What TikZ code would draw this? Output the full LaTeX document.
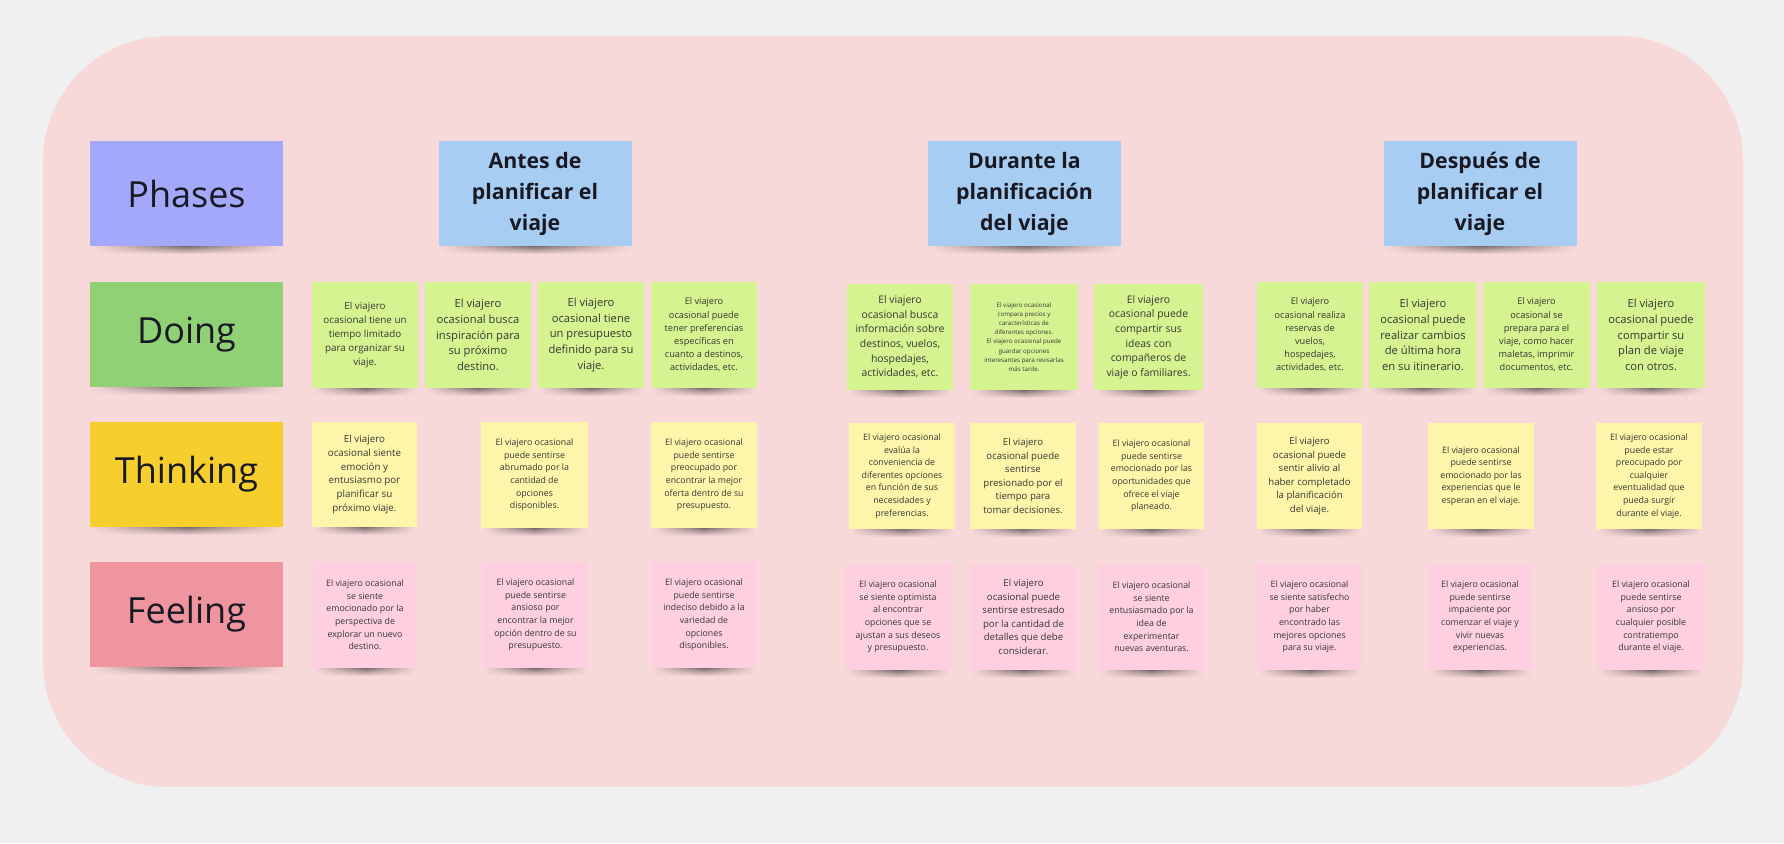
\documentclass[tikz,border=0pt]{standalone}
\usepackage{fontspec}
\setmainfont{Open Sans}
\usetikzlibrary{fadings}
\definecolor{outerbg}{RGB}{240,240,240}
\definecolor{panel}{RGB}{248,217,218}
\definecolor{phasecol}{RGB}{163,168,251}
\definecolor{headcol}{RGB}{167,205,243}
\definecolor{doingcol}{RGB}{145,209,118}
\definecolor{thinkcol}{RGB}{246,207,46}
\definecolor{feelcol}{RGB}{238,149,159}
\definecolor{greennote}{RGB}{213,244,145}
\definecolor{yellownote}{RGB}{253,246,170}
\definecolor{pinknote}{RGB}{254,207,224}
\definecolor{notetext}{RGB}{55,55,50}
\definecolor{labeltext}{RGB}{25,25,35}
\newcommand\nfs[2]{\fontsize{#1pt}{#2pt}\selectfont}
\tikzfading[name=endfade, left color=transparent!100, right color=transparent!100, middle color=transparent!0]
\tikzset{
  shadowband/.style={top color=black!70!panel, bottom color=panel, path fading=endfade, fit fading=true},
  basebox/.style={minimum width=106pt, minimum height=106pt, inner sep=0pt, align=center, text=notetext},
  gnote/.style={basebox, fill=greennote},
  ynote/.style={basebox, fill=yellownote},
  pnote/.style={basebox, fill=pinknote},
  rowlabel/.style={minimum width=193pt, minimum height=105pt, inner sep=0pt, align=center, text=labeltext, font=\nfs{36}{43}},
  phasehead/.style={minimum width=193pt, minimum height=105pt, inner sep=0pt, align=center, text=labeltext, fill=headcol, font=\bfseries\nfs{21.3}{31}},
}
% shadow under a box: center x, bottom y, half width
\newcommand\shad[3]{\shade[shadowband] ({#1-#3+2},{#2-3}) rectangle ({#1+#3-2},{#2+8});}
\begin{document}
\begin{tikzpicture}[x=1pt,y=-1pt]
\useasboundingbox (0,0) rectangle (1784,843);
\fill[outerbg] (0,0) rectangle (1784,843);
\fill[panel, rounded corners=125pt] (43,36) rectangle (1743,787);

% ---- row labels ----
\shad{186.5}{246}{96.5}
\node[rowlabel, fill=phasecol] (phases) at (186.5,193.5) {Phases};
\shad{186.5}{387}{96.5}
\node[rowlabel, fill=doingcol] (doing) at (186.5,334.5) {Doing};
\shad{186.5}{527}{96.5}
\node[rowlabel, fill=thinkcol] (thinking) at (186.5,474.5) {Thinking};
\shad{186.5}{667}{96.5}
\node[rowlabel, fill=feelcol] (feeling) at (186.5,614.5) {Feeling};

% ---- phase headers ----
\shad{535}{246}{96.5}
\node[phasehead] (antes) at (535,193.5) {Antes de\\planificar el\\viaje};
\shad{1024.5}{246}{96.5}
\node[phasehead] (durante) at (1024.5,193.5) {Durante la\\planificación\\del viaje};
\shad{1480}{246}{96.5}
\node[phasehead] (despues) at (1480,193.5) {Después de\\planificar el\\viaje};

% ---- Doing row ----
\shad{365}{388}{53}
\node[gnote, font=\nfs{9.8}{13.8}] (d1) at (365,335) {El viajero\\ocasional tiene un\\tiempo limitado\\para organizar su\\viaje.};
\shad{478}{388}{53}
\node[gnote, font=\nfs{11.2}{15.6}] (d2) at (478,335) {El viajero\\ocasional busca\\inspiración para\\su próximo\\destino.};
\shad{591}{388}{53}
\node[gnote, font=\nfs{11.2}{15.6}] (d3) at (591,335) {El viajero\\ocasional tiene\\un presupuesto\\definido para su\\viaje.};
\shad{704}{388}{53}
\node[gnote, font=\nfs{9.2}{13.2}] (d4) at (704,335) {El viajero\\ocasional puede\\tener preferencias\\específicas en\\cuanto a destinos,\\actividades, etc.};
\shad{900}{390}{53}
\node[gnote, font=\nfs{10.4}{14.6}] (d5) at (900,337) {El viajero\\ocasional busca\\información sobre\\destinos, vuelos,\\hospedajes,\\actividades, etc.};
\shad{1024}{390}{54}
\node[gnote, minimum width=108pt, font=\nfs{6.2}{9.2}] (d6) at (1024,337) {El viajero ocasional\\compara precios y\\características de\\diferentes opciones.\\El viajero ocasional puede\\guardar opciones\\interesantes para revisarlas\\más tarde.};
\shad{1148.5}{390}{54.5}
\node[gnote, minimum width=109pt, font=\nfs{10.4}{14.6}] (d7) at (1148.5,337) {El viajero\\ocasional puede\\compartir sus\\ideas con\\compañeros de\\viaje o familiares.};
\shad{1310}{388}{53}
\node[gnote, font=\nfs{9.2}{13.2}] (d8) at (1310,335) {El viajero\\ocasional realiza\\reservas de\\vuelos,\\hospedajes,\\actividades, etc.};
\shad{1423}{388}{54}
\node[gnote, minimum width=108pt, font=\nfs{11.2}{15.6}] (d9) at (1423,335) {El viajero\\ocasional puede\\realizar cambios\\de última hora\\en su itinerario.};
\shad{1536.5}{388}{53.5}
\node[gnote, minimum width=107pt, font=\nfs{9.2}{13.2}] (d10) at (1536.5,335) {El viajero\\ocasional se\\prepara para el\\viaje, como hacer\\maletas, imprimir\\documentos, etc.};
\shad{1651}{388}{54}
\node[gnote, minimum width=108pt, font=\nfs{11.2}{15.6}] (d11) at (1651,335) {El viajero\\ocasional puede\\compartir su\\plan de viaje\\con otros.};

% ---- Thinking row ----
\shad{364.5}{527}{52.5}
\node[ynote, minimum width=105pt, minimum height=105pt, font=\nfs{9.8}{13.8}] (t1) at (364.5,474.5) {El viajero\\ocasional siente\\emoción y\\entusiasmo por\\planificar su\\próximo viaje.};
\shad{534.5}{528}{53.5}
\node[ynote, minimum width=107pt, font=\nfs{8.8}{12.6}] (t2) at (534.5,475) {El viajero ocasional\\puede sentirse\\abrumado por la\\cantidad de\\opciones\\disponibles.};
\shad{704}{528}{53}
\node[ynote, font=\nfs{8.8}{12.6}] (t3) at (704,475) {El viajero ocasional\\puede sentirse\\preocupado por\\encontrar la mejor\\oferta dentro de su\\presupuesto.};
\shad{902}{529}{53}
\node[ynote, font=\nfs{8.8}{12.6}] (t4) at (902,476) {El viajero ocasional\\evalúa la\\conveniencia de\\diferentes opciones\\en función de sus\\necesidades y\\preferencias.};
\shad{1023}{529}{53}
\node[ynote, font=\nfs{9.6}{13.6}] (t5) at (1023,476) {El viajero\\ocasional puede\\sentirse\\presionado por el\\tiempo para\\tomar decisiones.};
\shad{1151.5}{529}{52.5}
\node[ynote, minimum width=105pt, font=\nfs{8.8}{12.6}] (t6) at (1151.5,476) {El viajero ocasional\\puede sentirse\\emocionado por las\\oportunidades que\\ofrece el viaje\\planeado.};
\shad{1309.5}{529}{52.5}
\node[ynote, minimum width=105pt, font=\nfs{9.6}{13.6}] (t7) at (1309.5,476) {El viajero\\ocasional puede\\sentir alivio al\\haber completado\\la planificación\\del viaje.};
\shad{1481}{529}{53}
\node[ynote, font=\nfs{8.8}{12.6}] (t8) at (1481,476) {El viajero ocasional\\puede sentirse\\emocionado por las\\experiencias que le\\esperan en el viaje.};
\shad{1649}{529}{53}
\node[ynote, font=\nfs{8.8}{12.6}] (t9) at (1649,476) {El viajero ocasional\\puede estar\\preocupado por\\cualquier\\eventualidad que\\pueda surgir\\durante el viaje.};

% ---- Feeling row ----
\shad{365}{668}{52}
\node[pnote, minimum width=104pt, font=\nfs{8.8}{12.6}] (f1) at (365,615) {El viajero ocasional\\se siente\\emocionado por la\\perspectiva de\\explorar un nuevo\\destino.};
\shad{535.5}{668}{53.5}
\node[pnote, minimum width=107pt, font=\nfs{8.8}{12.6}] (f2) at (535.5,615) {El viajero ocasional\\puede sentirse\\ansioso por\\encontrar la mejor\\opción dentro de su\\presupuesto.};
\shad{704}{668}{53}
\node[pnote, font=\nfs{8.8}{12.6}] (f3) at (704,615) {El viajero ocasional\\puede sentirse\\indeciso debido a la\\variedad de\\opciones\\disponibles.};
\shad{898}{670}{53}
\node[pnote, font=\nfs{8.8}{12.6}] (f4) at (898,617) {El viajero ocasional\\se siente optimista\\al encontrar\\opciones que se\\ajustan a sus deseos\\y presupuesto.};
\shad{1023.5}{670}{53.5}
\node[pnote, minimum width=107pt, font=\nfs{9.6}{13.6}] (f5) at (1023.5,617) {El viajero\\ocasional puede\\sentirse estresado\\por la cantidad de\\detalles que debe\\considerar.};
\shad{1151.5}{670}{53.5}
\node[pnote, minimum width=107pt, font=\nfs{8.8}{12.6}] (f6) at (1151.5,617) {El viajero ocasional\\se siente\\entusiasmado por la\\idea de\\experimentar\\nuevas aventuras.};
\shad{1309.5}{670}{52.5}
\node[pnote, minimum width=105pt, font=\nfs{8.8}{12.6}] (f7) at (1309.5,617) {El viajero ocasional\\se siente satisfecho\\por haber\\encontrado las\\mejores opciones\\para su viaje.};
\shad{1480}{670}{53}
\node[pnote, font=\nfs{8.8}{12.6}] (f8) at (1480,617) {El viajero ocasional\\puede sentirse\\impaciente por\\comenzar el viaje y\\vivir nuevas\\experiencias.};
\shad{1651}{670}{54}
\node[pnote, minimum width=108pt, font=\nfs{8.8}{12.6}] (f9) at (1651,617) {El viajero ocasional\\puede sentirse\\ansioso por\\cualquier posible\\contratiempo\\durante el viaje.};
\end{tikzpicture}
\end{document}
